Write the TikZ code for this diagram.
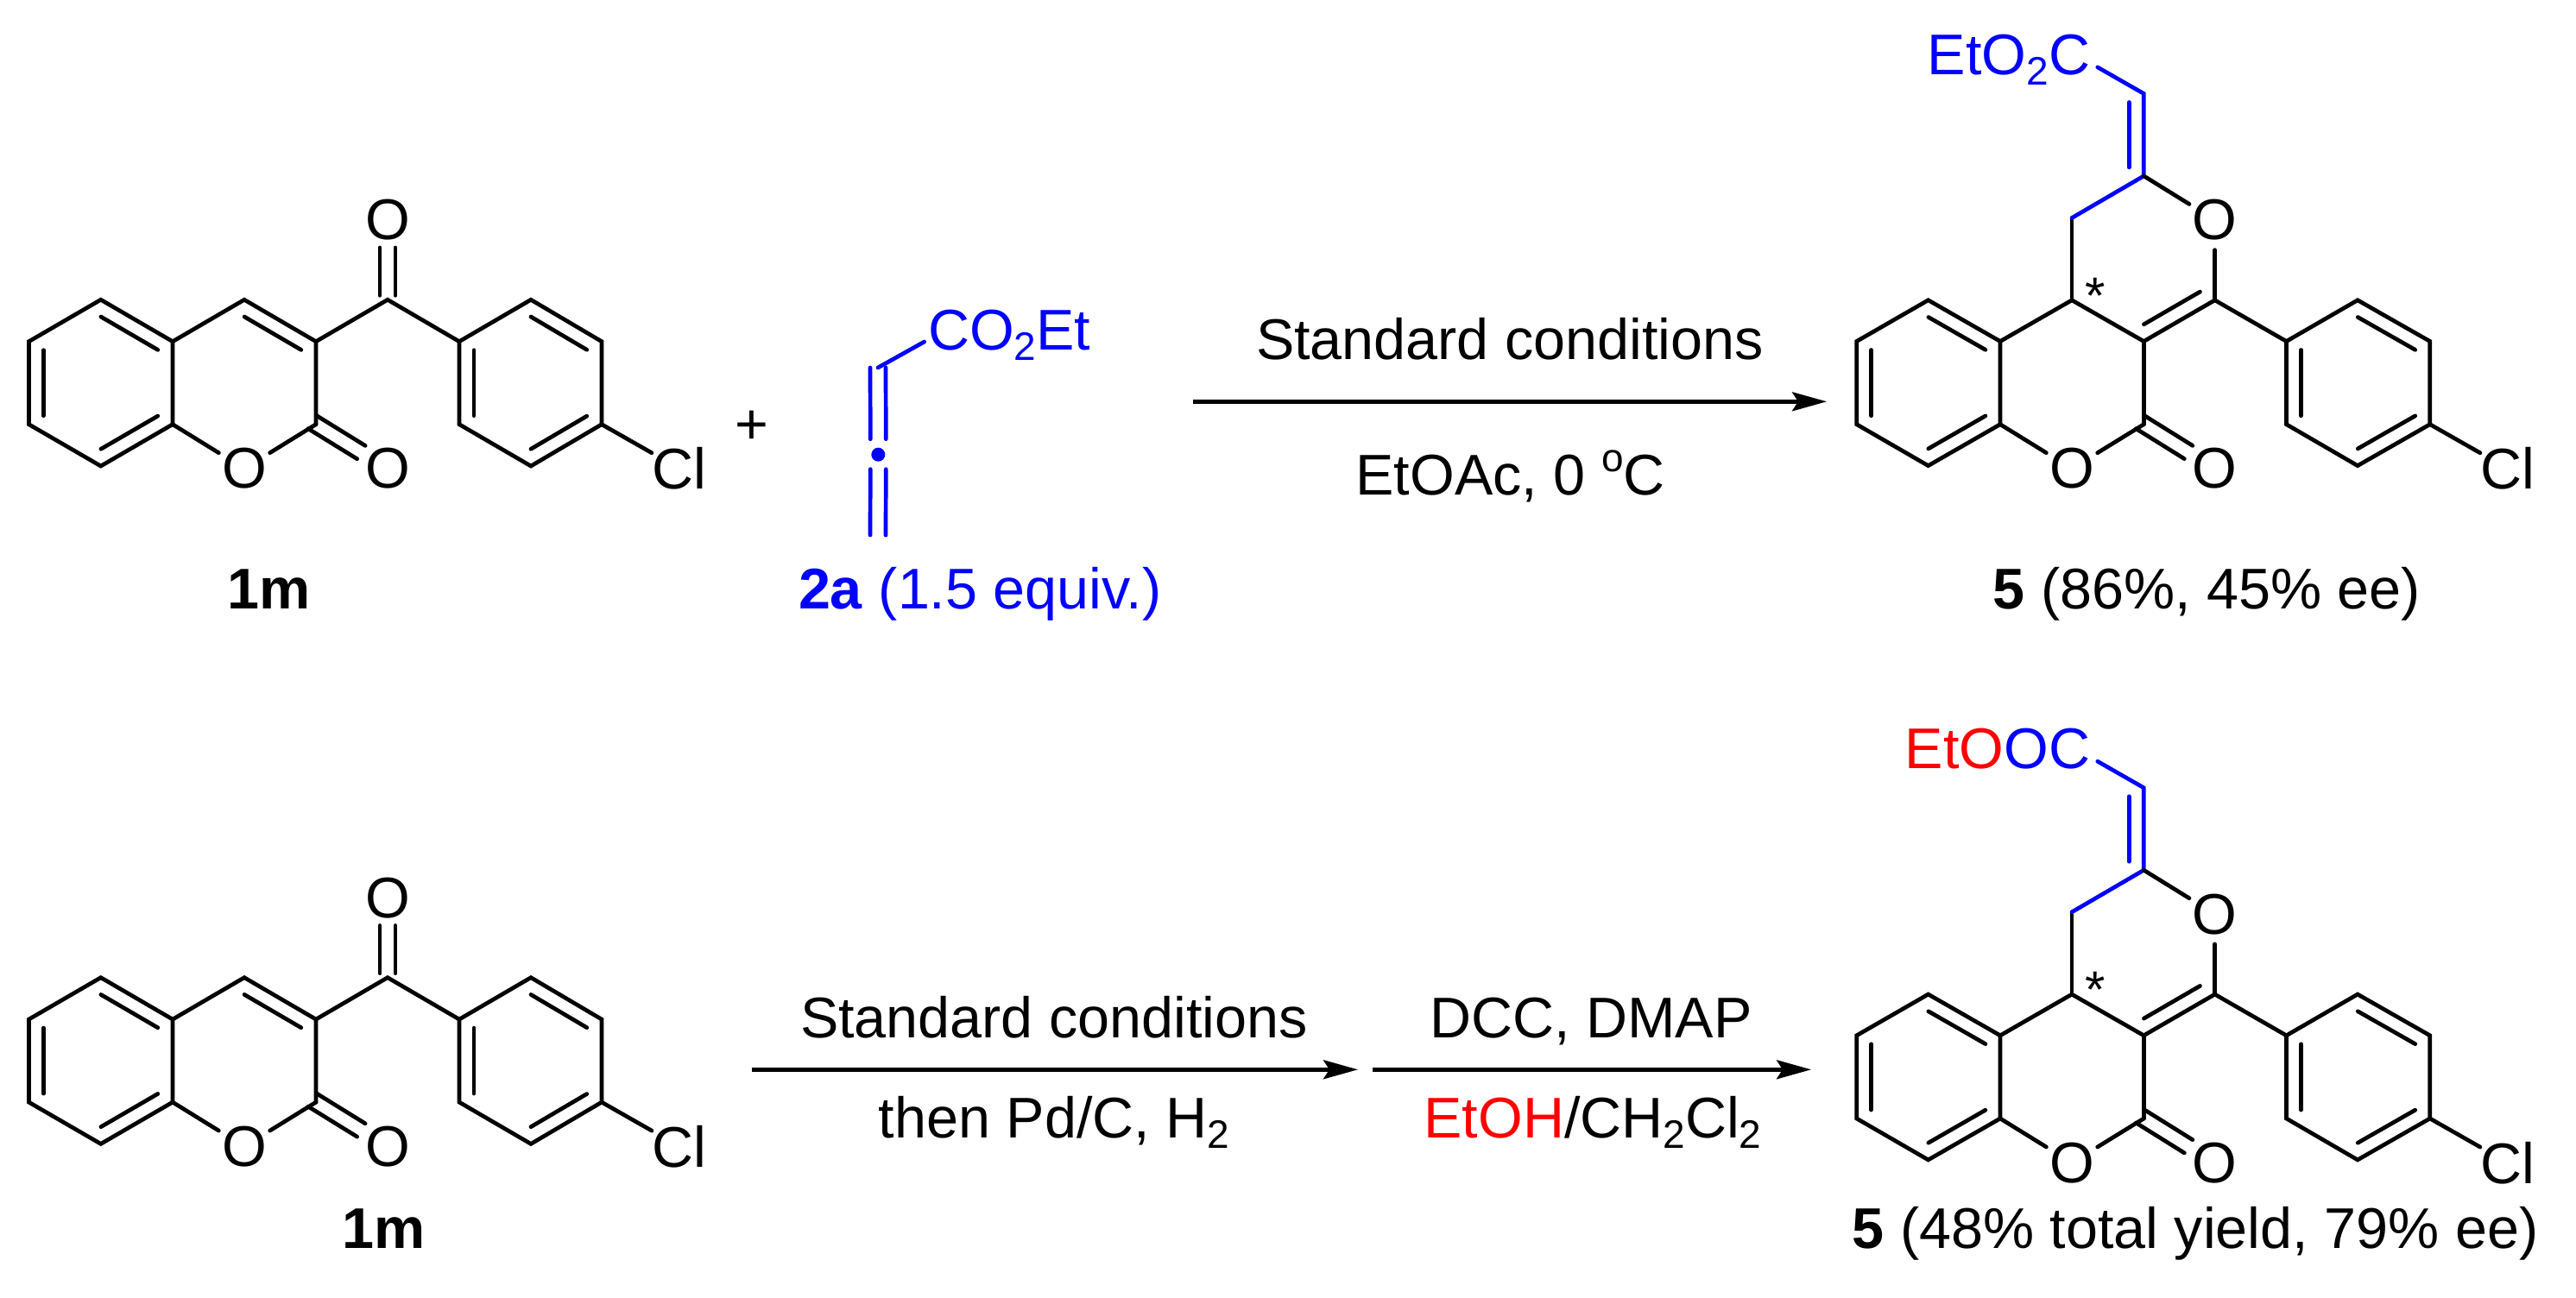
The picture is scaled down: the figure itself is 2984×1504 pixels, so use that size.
\documentclass[tikz,border=0pt]{standalone}
\usepackage{fontspec}
\setmainfont{Liberation Sans}
\usetikzlibrary{calc,arrows.meta}
\definecolor{chemblue}{RGB}{0,0,255}
\definecolor{chemred}{RGB}{255,0,0}
\newcommand\ssub[1]{\raisebox{-12pt}{\fontsize{46}{46}\selectfont #1}}
\newcommand\ssup[1]{\raisebox{27pt}{\fontsize{46}{46}\selectfont #1}}
\tikzset{
  bond/.style={line width=4.7pt,line cap=round,line join=miter,black},
  bluebond/.style={bond,draw=chemblue},
  txt/.style={font=\fontsize{66.5}{70}\selectfont,inner sep=0pt,outer sep=0pt},
  lbl/.style={txt,anchor=base},
  atomlbl/.style={txt,circle,anchor=center},
  rxn/.style={line width=4.4pt,-{Stealth[length=40pt,width=22pt,inset=7pt]}},
}
% inner line of a ring double bond, on the left of a->b
\newcommand\innerbond[3][bond]{%
  \draw[#1,shorten <=10pt,shorten >=10pt] ($(#2)!17pt!90:(#3)$) -- ($(#3)!17pt!-90:(#2)$);}
% symmetric double bond: a, b, shorten at a, shorten at b
\newcommand\symdbl[5][bond]{%
  \draw[#1,shorten <=#4pt,shorten >=#5pt] ($(#2)!9pt!90:(#3)$) -- ($(#3)!9pt!-90:(#2)$);
  \draw[#1,shorten <=#4pt,shorten >=#5pt] ($(#2)!9pt!-90:(#3)$) -- ($(#3)!9pt!90:(#2)$);}
% benzene ring and its inner lines: 1 top, then clockwise
\newcommand\benzring[1]{%
  \draw[bond] (#11)--(#12)--(#13)--(#14)--(#15)--(#16)--cycle;
  \innerbond{#12}{#11}
  \innerbond{#16}{#15}
  \innerbond{#14}{#13}}
% compound 1m
\newcommand\onem[2]{%
\begin{scope}[shift={(0,#2)}]
  \coordinate (#1b1) at (116.8,347.3);
  \coordinate (#1b2) at (200,395.7);
  \coordinate (#1b3) at (200,491.7);
  \coordinate (#1b4) at (116.8,540);
  \coordinate (#1b5) at (33.4,491.7);
  \coordinate (#1b6) at (33.4,395.7);
  \coordinate (#1c4) at (283,347.3);
  \coordinate (#1c3) at (366,395.7);
  \coordinate (#1c2) at (366,491.7);
  \coordinate (#1ck) at (449,347.3);
  \coordinate (#1a1) at (615,347.3);
  \coordinate (#1a2) at (697,395.7);
  \coordinate (#1a3) at (697,491.7);
  \coordinate (#1a4) at (615,540);
  \coordinate (#1a5) at (532,491.7);
  \coordinate (#1a6) at (532,395.7);
  \node[atomlbl] (#1Or) at (283,543) {O};
  \node[atomlbl] (#1Ol) at (449,543) {O};
  \node[atomlbl] (#1Ok) at (449,255) {O};
  \node[atomlbl,inner sep=-2pt] (#1Cl) at (787,543) {Cl};
  \benzring{#1b}
  \draw[bond] (#1b2)--(#1c4)--(#1c3)--(#1c2);
  \innerbond{#1c3}{#1c4}
  \draw[bond] (#1b3)--(#1Or);
  \draw[bond] (#1c2)--(#1Or);
  \symdbl{#1c2}{#1Ol}{-5}{36}
  \draw[bond] (#1c3)--(#1ck)--(#1a6);
  \symdbl{#1ck}{#1Ok}{5}{32}
  \benzring{#1a}
  \draw[bond] (#1a3)--(#1Cl);
\end{scope}}
% compound 5
\newcommand\prodfive[3]{%
\begin{scope}[shift={(0,#2)}]
  \coordinate (#1b1) at (2233.6,347.8);
  \coordinate (#1b2) at (2317,395.5);
  \coordinate (#1b3) at (2317,491.7);
  \coordinate (#1b4) at (2233.6,539.6);
  \coordinate (#1b5) at (2150.7,491.7);
  \coordinate (#1b6) at (2150.7,395.5);
  \coordinate (#1c10) at (2400,347.8);
  \coordinate (#1ch) at (2400,252.5);
  \coordinate (#1cv) at (2483.3,203.9);
  \coordinate (#1cx) at (2483.3,108.5);
  \coordinate (#1ce) at (2429.8,77.9);
  \coordinate (#1c4) at (2565.6,347.8);
  \coordinate (#1c3) at (2483.3,395.5);
  \coordinate (#1c2) at (2483.3,491.7);
  \coordinate (#1a1) at (2731,347.8);
  \coordinate (#1a2) at (2814.8,395.5);
  \coordinate (#1a3) at (2814.8,491.7);
  \coordinate (#1a4) at (2731,539.6);
  \coordinate (#1a5) at (2648.5,491.7);
  \coordinate (#1a6) at (2648.5,395.5);
  \node[atomlbl] (#1Ot) at (2565.6,254.8) {O};
  \node[atomlbl] (#1Or) at (2400,543) {O};
  \node[atomlbl] (#1Ol) at (2565.6,543) {O};
  \node[atomlbl,inner sep=-2pt] (#1Cl) at (2905,543) {Cl};
  \node[lbl,anchor=base east] (#1ester) at (2421,86.5) {#3};
  \node[lbl] (#1star) at (2427,363) {\fontsize{60}{60}\selectfont *};
  \benzring{#1b}
  \draw[bond] (#1b2)--(#1c10)--(#1c3)--(#1c4);
  \innerbond{#1c3}{#1c4}
  \draw[bond] (#1c3)--(#1c2);
  \draw[bond] (#1b3)--(#1Or);
  \draw[bond] (#1c2)--(#1Or);
  \symdbl{#1c2}{#1Ol}{-5}{36}
  \draw[bond] (#1c10)--(#1ch);
  \draw[bluebond] (#1ch)--(#1cv)--(#1cx)--(#1ce);
  \innerbond[bluebond]{#1cv}{#1cx}
  \draw[bond] (#1cv)--(#1Ot);
  \draw[bond] (#1Ot)--(#1c4);
  \draw[bond] (#1c4)--(#1a6);
  \benzring{#1a}
  \draw[bond] (#1a3)--(#1Cl);
\end{scope}}
\begin{document}
\begin{tikzpicture}[x=1pt,y=-1pt]
\useasboundingbox (0,0) rectangle (2984,1504);
% top row
\onem{t}{0}
\node[lbl] (tmlabel) at (312,705) {\textbf{1m}};
\node[lbl] (plus) at (870.7,514.7) {+};
% allene 2a
\coordinate (al1) at (1017,426);
\coordinate (al3) at (1017,620);
\coordinate (alco) at (1070.7,396);
\node[circle,fill=chemblue,inner sep=0pt,minimum size=16pt] (aldot) at (1017.3,526.7) {};
\symdbl[bluebond]{al1}{aldot}{0}{18}
\symdbl[bluebond]{aldot}{al3}{17}{0}
\draw[bluebond] (al1)--(alco);
\node[lbl,anchor=base west,text=chemblue] (alco2) at (1075,405) {CO\ssub{2}Et};
\node[lbl,anchor=base west,text=chemblue] (allabel) at (925,705) {\textbf{2a} (1.5 equiv.)};
% first arrow
\coordinate (ar1s) at (1382.4,465.3);
\coordinate (ar1e) at (2116,465.3);
\draw[rxn] (ar1s)--(ar1e);
\node[lbl] (ar1top) at (1749,416.7) {Standard conditions};
\node[lbl] (ar1bot) at (1749.5,573) {EtOAc, 0 \ssup{o}C};
\prodfive{u}{0}{\textcolor{chemblue}{EtO\ssub{2}C}}
\node[lbl] (ulabel) at (2556.5,705.5) {\textbf{5} (86\%, 45\% ee)};
% bottom row
\onem{d}{785.4}
\node[lbl] (dmlabel) at (444.6,1446) {\textbf{1m}};
\coordinate (ar2s) at (870.7,1239.3);
\coordinate (ar2e) at (1573,1239.3);
\coordinate (ar3s) at (1589.6,1239.3);
\coordinate (ar3e) at (2098,1239.3);
\draw[rxn] (ar2s)--(ar2e);
\draw[rxn] (ar3s)--(ar3e);
\node[lbl] (ar2top) at (1221,1202.7) {Standard conditions};
\node[lbl] (ar2bot) at (1221,1318) {then Pd/C, H\ssub{2}};
\node[lbl] (ar3top) at (1843,1202.7) {DCC, DMAP};
\node[lbl] (ar3bot) at (1845,1318) {\textcolor{chemred}{EtOH}/CH\ssub{2}Cl\ssub{2}};
\prodfive{v}{804.3}{\textcolor{chemred}{EtO}\textcolor{chemblue}{OC}}
\node[lbl] (vlabel) at (2543,1446.6) {\textbf{5} (48\% total yield, 79\% ee)};
\end{tikzpicture}
\end{document}
